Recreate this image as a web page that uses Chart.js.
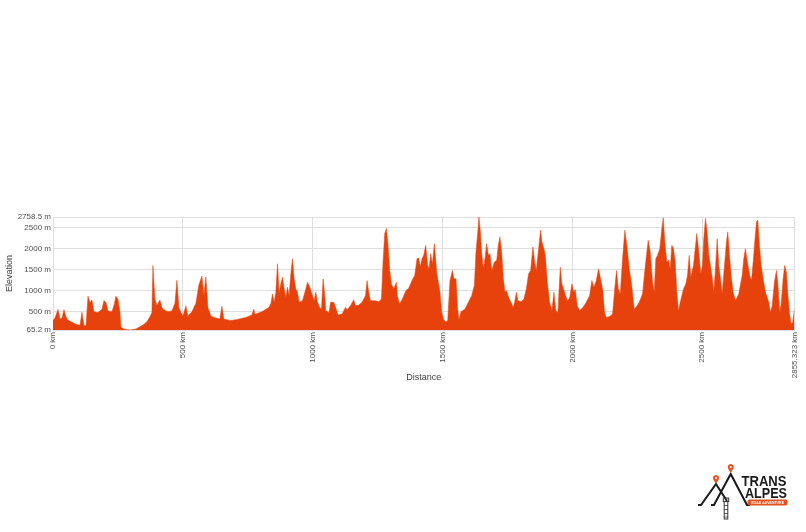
<!DOCTYPE html>
<html>
<head>
<meta charset="utf-8">
<script src="https://cdn.jsdelivr.net/npm/chart.js@4/dist/chart.umd.min.js"></script>
<style>
    html, body { margin: 0; padding: 0; background: #fff; }
    #wrap { position: relative; width: 806px; height: 532px; }
    #logo { position: absolute; left: 690px; top: 455px; }
</style>
</head>
<body>
<div id="wrap">
    <canvas id="elevChart" width="806" height="532"></canvas>
    <svg id="logo" width="110" height="72" viewBox="0 0 110 72">
        <!-- mountains -->
        <polyline points="8,50 11,50 26,29 37,46" fill="none" stroke="#1a1a1a" stroke-width="2" stroke-linejoin="miter"/>
        <polyline points="21,50 24,50 40.7,19 57,50 60,50" fill="none" stroke="#1a1a1a" stroke-width="2" stroke-linejoin="miter"/>
        <!-- pins -->
        <path d="M26,29 L23.4,24.5 A3,3 0 1 1 28.6,24.5 Z" fill="#e8511e"/>
        <circle cx="26" cy="23" r="1" fill="#fff"/>
        <path d="M40.7,18 L38.1,13.5 A3,3 0 1 1 43.3,13.5 Z" fill="#e8511e"/>
        <circle cx="40.7" cy="12" r="1" fill="#fff"/>
        <!-- screw -->
        <rect x="33.3" y="43" width="5.4" height="3.5" fill="none" stroke="#333" stroke-width="1"/>
        <rect x="34.2" y="46.5" width="3.6" height="17.5" fill="none" stroke="#333" stroke-width="1"/>
        <line x1="34.2" y1="50.5" x2="37.8" y2="50.5" stroke="#333" stroke-width="0.8"/>
        <line x1="34.2" y1="54.5" x2="37.8" y2="54.5" stroke="#333" stroke-width="0.8"/>
        <line x1="34.2" y1="58.5" x2="37.8" y2="58.5" stroke="#333" stroke-width="0.8"/>
        <line x1="34.2" y1="62" x2="37.8" y2="62" stroke="#333" stroke-width="0.8"/>
        <!-- text -->
        <text x="51.5" y="30.5" font-family="Liberation Sans, Arial, sans-serif" font-weight="bold" font-size="15" textLength="45" lengthAdjust="spacingAndGlyphs" fill="#1a1a1a">TRANS</text>
        <text x="55" y="42.5" font-family="Liberation Sans, Arial, sans-serif" font-weight="bold" font-size="15" textLength="42" lengthAdjust="spacingAndGlyphs" fill="#1a1a1a">ALPES</text>
        <rect x="57.5" y="44.5" width="40" height="6" rx="2" fill="#e8511e"/>
        <text x="61" y="49.2" font-family="Liberation Sans, Arial, sans-serif" font-weight="bold" font-size="4.3" textLength="33" lengthAdjust="spacingAndGlyphs" fill="#fff">ROAD ADVENTURE</text>
    </svg>
</div>
<script>
const distanceKm = [
    0, 7.7, 19.2, 26.9, 34.6, 42.3, 50.0, 57.7, 73.1, 88.5, 103.9, 111.6, 119.3, 127.0, 134.7, 142.4, 150.1, 157.8,
    173.2, 188.6, 196.3, 204.0, 211.7, 227.0, 234.7, 242.4, 250.1, 257.8, 261.7, 273.2, 296.3, 319.4, 334.8, 350.2,
    361.7, 373.3, 381.0, 384.8, 392.5, 400.2, 411.7, 419.4, 427.1, 442.5, 457.9, 469.5, 477.2, 484.9, 492.6, 500.3,
    511.8, 519.5, 534.9, 550.3, 561.8, 573.4, 581.1, 588.8, 596.5, 608.0, 623.4, 642.6, 650.3, 658.0, 681.1, 704.2,
    742.7, 765.8, 773.5, 777.3, 804.3, 831.2, 838.9, 845.4, 851.6, 858.1, 864.7, 870.8, 877.4, 883.9, 890.1, 896.6,
    903.2, 909.3, 915.9, 922.4, 928.6, 935.1, 941.6, 947.8, 960.9, 973.6, 980.1, 989.0, 999.4, 1005.5, 1012.1, 1018.6,
    1027.5, 1034.0, 1040.2, 1045.5, 1050.6, 1063.3, 1068.6, 1081.4, 1090.2, 1097.9, 1113.3, 1126.4, 1132.5, 1145.6,
    1158.3, 1164.8, 1177.5, 1190.2, 1203.3, 1209.5, 1216.0, 1222.6, 1241.8, 1254.5, 1264.9, 1271.0, 1277.6, 1284.1,
    1290.3, 1296.8, 1303.4, 1312.2, 1322.6, 1326.4, 1334.1, 1344.2, 1359.5, 1369.9, 1382.6, 1393.0, 1401.9, 1408.4,
    1415.0, 1421.2, 1427.7, 1435.4, 1443.1, 1448.1, 1454.6, 1461.2, 1468.9, 1477.7, 1490.4, 1497.0, 1503.5, 1512.3,
    1520.0, 1528.9, 1538.1, 1544.3, 1552.0, 1558.5, 1563.5, 1571.2, 1586.6, 1599.7, 1612.4, 1622.8, 1629.0, 1635.5,
    1640.5, 1645.9, 1651.1, 1657.4, 1663.6, 1670.1, 1676.7, 1682.8, 1689.4, 1699.8, 1708.6, 1715.2, 1721.3, 1727.8,
    1734.4, 1740.5, 1745.9, 1755.9, 1763.6, 1772.9, 1777.9, 1784.4, 1790.6, 1803.6, 1813.6, 1822.9, 1831.7, 1839.4,
    1848.3, 1854.8, 1861.4, 1870.2, 1877.9, 1882.9, 1890.6, 1896.0, 1903.7, 1912.6, 1921.4, 1929.1, 1936.8, 1944.5,
    1953.7, 1959.9, 1970.3, 1980.7, 1989.5, 1998.4, 2006.1, 2011.5, 2019.1, 2028.0, 2040.7, 2053.8, 2066.5, 2075.3,
    2083.0, 2092.3, 2101.1, 2108.8, 2117.7, 2124.2, 2130.8, 2143.5, 2155.0, 2163.9, 2170.4, 2177.0, 2184.7, 2193.5,
    2202.4, 2210.1, 2219.3, 2228.1, 2238.5, 2244.7, 2257.8, 2270.4, 2279.3, 2287.0, 2292.4, 2300.1, 2308.9, 2315.5,
    2321.6, 2328.2, 2337.0, 2344.7, 2350.1, 2356.3, 2364.0, 2370.5, 2377.1, 2383.2, 2389.8, 2396.3, 2402.5, 2409.0,
    2415.6, 2428.2, 2437.1, 2443.6, 2450.2, 2456.3, 2466.7, 2473.2, 2479.4, 2485.9, 2494.8, 2501.3, 2506.3, 2512.9,
    2519.4, 2525.6, 2532.1, 2538.6, 2544.8, 2551.4, 2557.9, 2564.1, 2570.6, 2577.1, 2586.0, 2593.7, 2598.7, 2605.3,
    2611.8, 2619.5, 2628.4, 2641.0, 2654.1, 2660.3, 2666.8, 2673.4, 2683.4, 2689.9, 2696.5, 2702.6, 2709.2, 2714.2,
    2720.7, 2727.3, 2735.0, 2743.8, 2750.4, 2756.5, 2763.1, 2769.6, 2778.5, 2786.1, 2791.1, 2798.8, 2804.2, 2811.9,
    2818.0, 2824.6, 2829.6, 2836.1, 2842.7, 2848.8, 2855.323
]

const elevationM = [
    290, 350, 555, 330, 350, 550, 380, 300, 250, 200, 180, 490, 180, 160, 870, 720, 780, 500,
    480, 560, 770, 720, 520, 500, 650, 870, 800, 500, 130, 90, 65.2, 90, 140, 200,
    260, 380, 480, 1600, 800, 650, 780, 600, 550, 500, 520, 700, 1250, 600, 480, 400,
    640, 400, 500, 700, 1140, 1350, 900, 1330, 600, 400, 360, 330, 630, 330, 290, 310,
    365, 420, 560, 440, 500, 600, 685, 925, 720, 960, 1644, 960, 1164, 1324, 1044, 844,
    1084, 884, 1404, 1764, 1284, 1044, 964, 724, 764, 1044, 1204, 1084, 884, 764, 964, 724,
    604, 564, 1284, 964, 524, 484, 724, 724, 564, 420, 444, 604, 548, 644,
    788, 644, 660, 724, 884, 1244, 964, 764, 764, 740, 804, 1684, 2364, 2484,
    2084, 1484, 1164, 1044, 1204, 884, 684, 788, 1004, 1060, 1244, 1364, 1764, 1780,
    1564, 1764, 1844, 2084, 1604, 1524, 1884, 1644, 2124, 1444, 964, 484, 324, 260,
    284, 1244, 1484, 1284, 1284, 564, 308, 500, 564, 724, 884, 1124, 1924, 2364,
    2758.5, 2404, 1884, 1524, 1764, 2124, 1844, 1884, 1484, 1684, 1724, 2084, 2284, 1924,
    1284, 964, 1004, 820, 724, 604, 724, 964, 764, 740, 804, 1044, 1404, 1484,
    2044, 1684, 1484, 2004, 2444, 2164, 2004, 1844, 1204, 724, 524, 964, 524, 484,
    1564, 1164, 964, 764, 820, 1164, 964, 1028, 644, 524, 604, 724, 884, 1244,
    1084, 1244, 1524, 1284, 1004, 484, 364, 388, 444, 1084, 1484, 1044, 924, 1764,
    2444, 2084, 1524, 1164, 564, 604, 724, 924, 1484, 1924, 2204, 1924, 1204, 964,
    1764, 1844, 2004, 2484, 2740, 2164, 1684, 1724, 1524, 2084, 2004, 1684, 964, 524,
    724, 1044, 1164, 1364, 1844, 1324, 1604, 2004, 2364, 2004, 1404, 1604, 2244, 2724,
    2404, 1844, 1604, 1324, 964, 1524, 2244, 1604, 1284, 924, 1604, 2164, 2404, 1844,
    1364, 964, 764, 924, 1364, 1764, 2004, 1724, 1364, 1244, 1684, 2164, 2644, 2684,
    2084, 1604, 1284, 964, 844, 724, 484, 644, 1204, 1484, 1204, 484, 684, 1284,
    1604, 1444, 964, 484, 204, 244, 564
]

const yTicks = [65.2, 500, 1000, 1500, 2000, 2500, 2758.5]
const xTicks = [0, 500, 1000, 1500, 2000, 2500, 2855.323]

const fillColor = '#e8420c'
const gridColor = '#dedede'
const textColor = '#505050'

const points = distanceKm.map((d, i) => ({ x: d, y: elevationM[i] }))

const ctx = document.getElementById('elevChart')

new Chart(ctx, {
    type: 'line',
    data: {
        datasets: [{
            data: points,
            backgroundColor: fillColor,
            borderColor: fillColor,
            borderWidth: 0.5,
            pointRadius: 0,
            fill: 'start',
            tension: 0
        }]
    },
    options: {
        responsive: false,
        animation: false,
        layout: {
            padding: { top: 217, right: 11, bottom: 145, left: 0 }
        },
        plugins: {
            legend: { display: false },
            tooltip: { enabled: false }
        },
        scales: {
            x: {
                type: 'linear',
                min: 0,
                max: 2855.323,
                afterBuildTicks: (axis) => { axis.ticks = xTicks.map(v => ({ value: v })) },
                afterFit: (axis) => { axis.height = 57 },
                ticks: {
                    autoSkip: false,
                    maxRotation: 90,
                    minRotation: 90,
                    padding: 2,
                    color: textColor,
                    font: { family: 'Liberation Sans', size: 8 },
                    callback: (v) => v + ' km'
                },
                grid: { color: gridColor, drawTicks: false },
                border: { color: gridColor },
                title: {
                    display: true,
                    text: 'Distance',
                    color: '#404040',
                    font: { family: 'Liberation Sans', size: 9 },
                    padding: { top: 0, bottom: 4 }
                }
            },
            y: {
                min: 65.2,
                max: 2758.5,
                afterBuildTicks: (axis) => { axis.ticks = yTicks.map(v => ({ value: v })) },
                afterFit: (axis) => { axis.width = 53 },
                ticks: {
                    padding: 2,
                    color: textColor,
                    font: { family: 'Liberation Sans', size: 8 },
                    callback: (v) => v + ' m'
                },
                grid: { color: gridColor, drawTicks: false },
                border: { color: gridColor },
                title: {
                    display: true,
                    text: 'Elevation',
                    color: '#404040',
                    font: { family: 'Liberation Sans', size: 9 },
                    padding: { top: 4, bottom: 0 }
                }
            }
        }
    }
})
</script>
</body>
</html>
